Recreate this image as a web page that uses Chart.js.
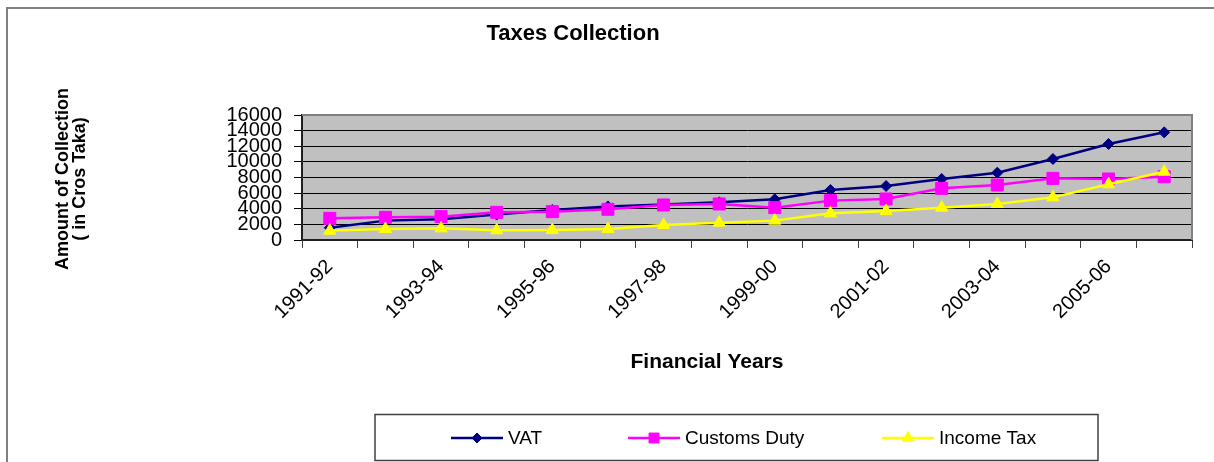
<!DOCTYPE html>
<html>
<head>
<meta charset="utf-8">
<script src="https://cdn.jsdelivr.net/npm/chart.js@4.4.1/dist/chart.umd.min.js"></script>
<style>
html,body{margin:0;padding:0;background:#fff;}
#wrap{position:relative;width:1214px;height:462px;}
</style>
</head>
<body>
<div id="wrap"><canvas id="c" width="1214" height="462"></canvas></div>
<script>
const categories = ['1991-92','1992-93','1993-94','1994-95','1995-96','1996-97','1997-98','1998-99','1999-00','2000-01','2001-02','2002-03','2003-04','2004-05','2005-06','2006-07'];
const vat = [1580, 2480, 2650, 3250, 3850, 4300, 4550, 4820, 5210, 6400, 6910, 7810, 8620, 10370, 12290, 13780];
const customsDuty = [2770, 2900, 2990, 3540, 3630, 3930, 4480, 4610, 4140, 5040, 5250, 6610, 7040, 7890, 7810, 8100];
const incomeTax = [1200, 1410, 1490, 1240, 1280, 1410, 1920, 2220, 2480, 3410, 3710, 4140, 4610, 5460, 7130, 8740];
const yTicks = [0, 2000, 4000, 6000, 8000, 10000, 12000, 14000, 16000];
const chartTitle = 'Taxes Collection';
const xTitle = 'Financial Years';
const yTitleLines = ['Amount of Collection', '( in Cros Taka)'];

const FONT = "'Liberation Sans', Arial, sans-serif";

const decor = {
  id: 'decor',
  beforeDraw(chart) {
    const {ctx, chartArea: a} = chart;
    ctx.save();
    ctx.fillStyle = '#C0C0C0';
    ctx.fillRect(a.left, a.top, a.right - a.left, a.bottom - a.top);
    ctx.restore();
  },
  afterDraw(chart) {
    const {ctx, chartArea: a} = chart;
    ctx.save();
    // plot border (top/right)
    ctx.strokeStyle = '#808080';
    ctx.lineWidth = 2;
    ctx.beginPath();
    ctx.moveTo(a.left, a.top); ctx.lineTo(a.right, a.top); ctx.lineTo(a.right, a.bottom);
    ctx.stroke();
    // outer frame
    ctx.strokeStyle = '#808080';
    ctx.lineWidth = 2;
    ctx.beginPath();
    ctx.moveTo(7, 462); ctx.lineTo(7, 8); ctx.lineTo(1214, 8);
    ctx.stroke();
    // titles
    ctx.fillStyle = '#000';
    ctx.textAlign = 'center';
    ctx.textBaseline = 'middle';
    ctx.font = 'bold 22px ' + FONT;
    ctx.fillText(chartTitle, 573, 34);
    ctx.font = 'bold 21px ' + FONT;
    ctx.fillText(xTitle, 707, 362);
    ctx.save();
    ctx.translate(63, 179);
    ctx.rotate(-Math.PI / 2);
    ctx.font = 'bold 18px ' + FONT;
    ctx.fillText(yTitleLines[0], 0, 0);
    ctx.fillText(yTitleLines[1], 0, 17);
    ctx.restore();
    // legend box
    ctx.strokeStyle = '#404040';
    ctx.lineWidth = 1.5;
    ctx.strokeRect(375, 414.5, 723, 46);
    const items = [
      {ds: 0, x: 451},
      {ds: 1, x: 628},
      {ds: 2, x: 882}
    ];
    const ly = 438;
    items.forEach(it => {
      const ds = chart.data.datasets[it.ds];
      ctx.strokeStyle = ds.borderColor;
      ctx.lineWidth = 2.5;
      ctx.beginPath();
      ctx.moveTo(it.x, ly); ctx.lineTo(it.x + 52, ly);
      ctx.stroke();
      ctx.fillStyle = ds.backgroundColor;
      ctx.strokeStyle = ds.borderColor;
      ctx.lineWidth = 1;
      Chart.helpers.drawPoint(ctx, {pointStyle: ds.pointStyle, radius: ds.legendRadius, borderWidth: 1}, it.x + 26, ly);
      ctx.fillStyle = '#000';
      ctx.textAlign = 'left';
      ctx.textBaseline = 'middle';
      ctx.font = '19px ' + FONT;
      ctx.fillText(ds.label, it.x + 57, ly + 1);
    });
    ctx.restore();
  }
};

const datasets = [
  {label: 'VAT', data: vat, borderColor: '#000080', backgroundColor: '#000080', pointStyle: 'rectRot', pointRadius: 5.5, legendRadius: 5, order: 3},
  {label: 'Customs Duty', data: customsDuty, borderColor: '#FF00FF', backgroundColor: '#FF00FF', pointStyle: 'rect', pointRadius: 8.5, legendRadius: 7, order: 2},
  {label: 'Income Tax', data: incomeTax, borderColor: '#FFFF00', backgroundColor: '#FFFF00', pointStyle: 'triangle', pointRadius: 7, legendRadius: 6.5, order: 1}
].map(d => Object.assign({borderWidth: 2.5, pointBorderWidth: 1, pointBackgroundColor: d.backgroundColor, pointBorderColor: d.borderColor, tension: 0, fill: false}, d));

const chart = new Chart(document.getElementById('c'), {
  type: 'line',
  data: {labels: categories, datasets},
  options: {
    responsive: false,
    animation: false,
    layout: {padding: {left: 0, right: 22, top: 115, bottom: 0}},
    plugins: {legend: {display: false}, title: {display: false}, tooltip: {enabled: false}},
    scales: {
      x: {
        type: 'category',
        offset: true,
        afterFit(s){ s.height = 222; },
        grid: {offset: true, drawOnChartArea: false, drawTicks: true, tickLength: 8, color: '#404040', lineWidth: 1},
        border: {display: true, color: '#202020', width: 2},
        ticks: {
          autoSkip: false, maxRotation: 45, minRotation: 45, padding: 7,
          color: '#000', font: {family: FONT, size: 20},
          callback(v, i){ return i % 2 === 0 ? categories[i] : ''; }
        }
      },
      y: {
        min: 0, max: 16000,
        afterFit(s){ s.width = 302; },
        afterBuildTicks(s){ s.ticks = yTicks.map(v => ({value: v})); },
        grid: {color: '#000', lineWidth: 1, tickLength: 8, drawTicks: true},
        border: {display: true, color: '#202020', width: 2},
        ticks: {autoSkip: false, padding: 12, color: '#000', font: {family: FONT, size: 20, lineHeight: 1},
          callback(v){ return String(v); }}
      }
    }
  },
  plugins: [decor]
});
</script>
</body>
</html>
